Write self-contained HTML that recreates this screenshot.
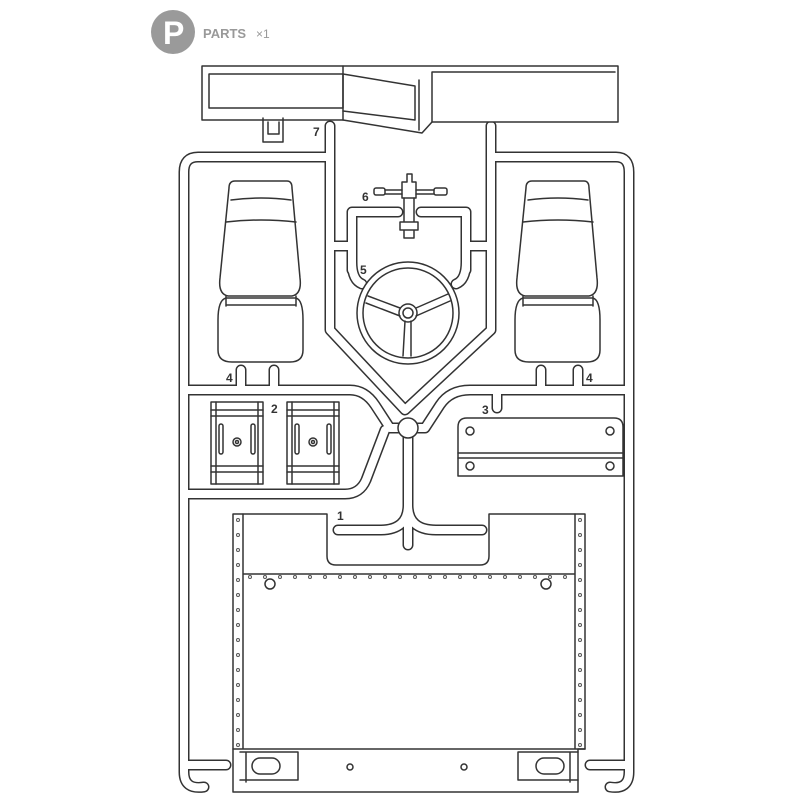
<!DOCTYPE html>
<html><head><meta charset="utf-8"><style>
html,body{margin:0;padding:0;background:#fff;}
svg{display:block}
text{font-family:"Liberation Sans",sans-serif;font-weight:bold;fill:#333}
</style></head><body>
<svg width="800" height="800" viewBox="0 0 800 800" xmlns="http://www.w3.org/2000/svg">
<circle cx="173" cy="32" r="22" fill="#9a9a9a"/>
<text x="163" y="44" font-size="32" style="fill:#fff">P</text>
<text x="203" y="38" font-size="13" style="fill:#999">PARTS</text>
<text x="256" y="38" font-size="12" style="fill:#999;font-weight:normal">×1</text>

<g fill="none" stroke-linejoin="round" stroke-linecap="round">
<g stroke="#333" stroke-width="11">
<path d="M330,126 V157 H198 Q184,157 184,172 V772 Q184,790 204,787"/>
<path d="M491,126 V157 H616 Q629,157 629,172 V772 Q629,790 610,787"/>
<path d="M330,157 V330 L405,410 L491,330 V157"/>
<path d="M331,246 H352 M352,270 V212 H398 M421,212 H466 V270 M466,246 H491"/>
<path d="M352,262 Q352,280 362,284 M466,262 Q466,280 456,284"/>
<path d="M184,390 H350 Q365,390 375,405 L390,428 H425 L440,405 Q450,390 470,390 H629"/>
<path d="M184,494 H345 Q360,494 366,480 L385,430"/>
<path d="M497,390 V408"/>
<path d="M408,428 V545 M408,505 Q408,530 380,530 H338 M408,505 Q408,530 436,530 H482"/>
<path d="M184,765 H226 M590,765 H629"/>
<path d="M241,370 V388 M274,370 V388 M541,370 V388 M578,370 V388"/>
</g>
<g stroke="#fff" stroke-width="8">
<path d="M330,126 V157 H198 Q184,157 184,172 V772 Q184,790 204,787"/>
<path d="M491,126 V157 H616 Q629,157 629,172 V772 Q629,790 610,787"/>
<path d="M330,157 V330 L405,410 L491,330 V157"/>
<path d="M331,246 H352 M352,270 V212 H398 M421,212 H466 V270 M466,246 H491"/>
<path d="M352,262 Q352,280 362,284 M466,262 Q466,280 456,284"/>
<path d="M184,390 H350 Q365,390 375,405 L390,428 H425 L440,405 Q450,390 470,390 H629"/>
<path d="M184,494 H345 Q360,494 366,480 L385,430"/>
<path d="M497,390 V408"/>
<path d="M408,428 V545 M408,505 Q408,530 380,530 H338 M408,505 Q408,530 436,530 H482"/>
<path d="M184,765 H226 M590,765 H629"/>
<path d="M241,370 V388 M274,370 V388 M541,370 V388 M578,370 V388"/>
</g>
<circle cx="408" cy="428" r="10" fill="#fff" stroke="#333" stroke-width="1.5"/>

<g stroke="#333" stroke-width="1.5">
<path d="M202,66 H618 V122 H432 L422,133 L343,120 H202 Z" fill="#fff"/>
<path d="M209,74 H343 V108 H209 Z"/>
<path d="M343,74 L415,86 V120 M343,111 L415,120"/>
<path d="M432,72 H615 M432,72 V122 M419,80 V130 M343,66 V120"/>
<path d="M263,118 V142 H283 V118 M268,122 V134 H279 V122"/>
<g id="seat">
<path d="M235,181 H287 Q292,181 292,188 L300,278 Q302,294 292,296 H228 Q218,294 220,278 L229,188 Q229,181 235,181 Z" fill="#fff"/>
<path d="M231,200 Q261,196 291,200 M226,222 Q261,218 296,222"/>
<path d="M226,298 H296 Q303,300 303,320 V350 Q303,362 290,362 H232 Q218,362 218,350 V320 Q218,300 226,298 Z" fill="#fff"/>
<path d="M226,296 V306 M296,296 V306 M226,305 H296"/>
</g>
<use href="#seat" transform="translate(297,0)"/>
<circle cx="408" cy="313" r="51" fill="#fff"/>
<circle cx="408" cy="313" r="45"/>
<circle cx="408" cy="313" r="9"/><circle cx="408" cy="313" r="5"/>
<path d="M400,308 L368,296 M416,308 L448,294 M405,321 L403,356 M411,321 L411,356 M400,316 L366,303 M416,316 L450,301"/>
<path d="M407,174 H412 V182 H416 V198 H402 V182 H407 Z" fill="#fff"/>
<path d="M404,198 V222 M414,198 V222 M400,222 H418 V230 H400 Z M404,230 V238 H414 V230" fill="#fff"/>
<path d="M385,190 H402 M385,194 H402 M416,190 H434 M416,194 H434"/>
<rect x="374" y="188" width="11" height="7" rx="2"/><rect x="434" y="188" width="13" height="7" rx="2"/>
<g id="p2">
<rect x="211" y="402" width="52" height="82" fill="#fff"/>
<path d="M211,410 H263 M211,416 H263 M211,466 H263 M211,472 H263 M216,402 V484 M258,402 V484"/>
<rect x="219" y="424" width="4" height="30" rx="2"/><rect x="251" y="424" width="4" height="30" rx="2"/>
<circle cx="237" cy="442" r="4"/><circle cx="237" cy="442" r="1.5"/>
</g>
<use href="#p2" transform="translate(76,0)"/>
<path d="M458,476 V427 Q458,418 467,418 H614 Q623,418 623,427 V476 Z" fill="#fff"/>
<path d="M458,453 H623 M458,458 H623"/>
<circle cx="470" cy="431" r="4"/><circle cx="610" cy="431" r="4"/>
<circle cx="470" cy="466" r="4"/><circle cx="610" cy="466" r="4"/>
<path d="M233,514 H327 V556 Q327,565 336,565 H480 Q489,565 489,556 V514 H585 V749 H578 V792 H233 V749 Z" fill="#fff"/>
<path d="M243,514 V749 M575,514 V749 M243,574 H575 M233,749 H585"/>
<circle cx="270" cy="584" r="5"/><circle cx="546" cy="584" r="5"/>
<circle cx="350" cy="767" r="3"/><circle cx="464" cy="767" r="3"/>
<path d="M240,752 H298 V780 H240 M246,752 V782"/>
<rect x="252" y="758" width="28" height="16" rx="8"/>
<path d="M578,752 H518 V780 H578 M570,752 V782"/>
<rect x="536" y="758" width="28" height="16" rx="8"/>
</g>
<g fill="none" stroke="#555" stroke-width="1">
<circle cx="238" cy="520" r="1.5"/><circle cx="238" cy="535" r="1.5"/><circle cx="238" cy="550" r="1.5"/><circle cx="238" cy="565" r="1.5"/><circle cx="238" cy="580" r="1.5"/><circle cx="238" cy="595" r="1.5"/><circle cx="238" cy="610" r="1.5"/><circle cx="238" cy="625" r="1.5"/><circle cx="238" cy="640" r="1.5"/><circle cx="238" cy="655" r="1.5"/><circle cx="238" cy="670" r="1.5"/><circle cx="238" cy="685" r="1.5"/><circle cx="238" cy="700" r="1.5"/><circle cx="238" cy="715" r="1.5"/><circle cx="238" cy="730" r="1.5"/><circle cx="238" cy="745" r="1.5"/>
<circle cx="580" cy="520" r="1.5"/><circle cx="580" cy="535" r="1.5"/><circle cx="580" cy="550" r="1.5"/><circle cx="580" cy="565" r="1.5"/><circle cx="580" cy="580" r="1.5"/><circle cx="580" cy="595" r="1.5"/><circle cx="580" cy="610" r="1.5"/><circle cx="580" cy="625" r="1.5"/><circle cx="580" cy="640" r="1.5"/><circle cx="580" cy="655" r="1.5"/><circle cx="580" cy="670" r="1.5"/><circle cx="580" cy="685" r="1.5"/><circle cx="580" cy="700" r="1.5"/><circle cx="580" cy="715" r="1.5"/><circle cx="580" cy="730" r="1.5"/><circle cx="580" cy="745" r="1.5"/>
<circle cx="250" cy="577" r="1.5"/><circle cx="265" cy="577" r="1.5"/><circle cx="280" cy="577" r="1.5"/><circle cx="295" cy="577" r="1.5"/><circle cx="310" cy="577" r="1.5"/><circle cx="325" cy="577" r="1.5"/><circle cx="340" cy="577" r="1.5"/><circle cx="355" cy="577" r="1.5"/><circle cx="370" cy="577" r="1.5"/><circle cx="385" cy="577" r="1.5"/><circle cx="400" cy="577" r="1.5"/><circle cx="415" cy="577" r="1.5"/><circle cx="430" cy="577" r="1.5"/><circle cx="445" cy="577" r="1.5"/><circle cx="460" cy="577" r="1.5"/><circle cx="475" cy="577" r="1.5"/><circle cx="490" cy="577" r="1.5"/><circle cx="505" cy="577" r="1.5"/><circle cx="520" cy="577" r="1.5"/><circle cx="535" cy="577" r="1.5"/><circle cx="550" cy="577" r="1.5"/><circle cx="565" cy="577" r="1.5"/>
</g>
<g font-size="12">
<text x="313" y="136">7</text>
<text x="362" y="201">6</text>
<text x="360" y="274">5</text>
<text x="226" y="382">4</text>
<text x="586" y="382">4</text>
<text x="271" y="413">2</text>
<text x="482" y="414">3</text>
<text x="337" y="520">1</text>
</g>
</svg>
</body></html>
